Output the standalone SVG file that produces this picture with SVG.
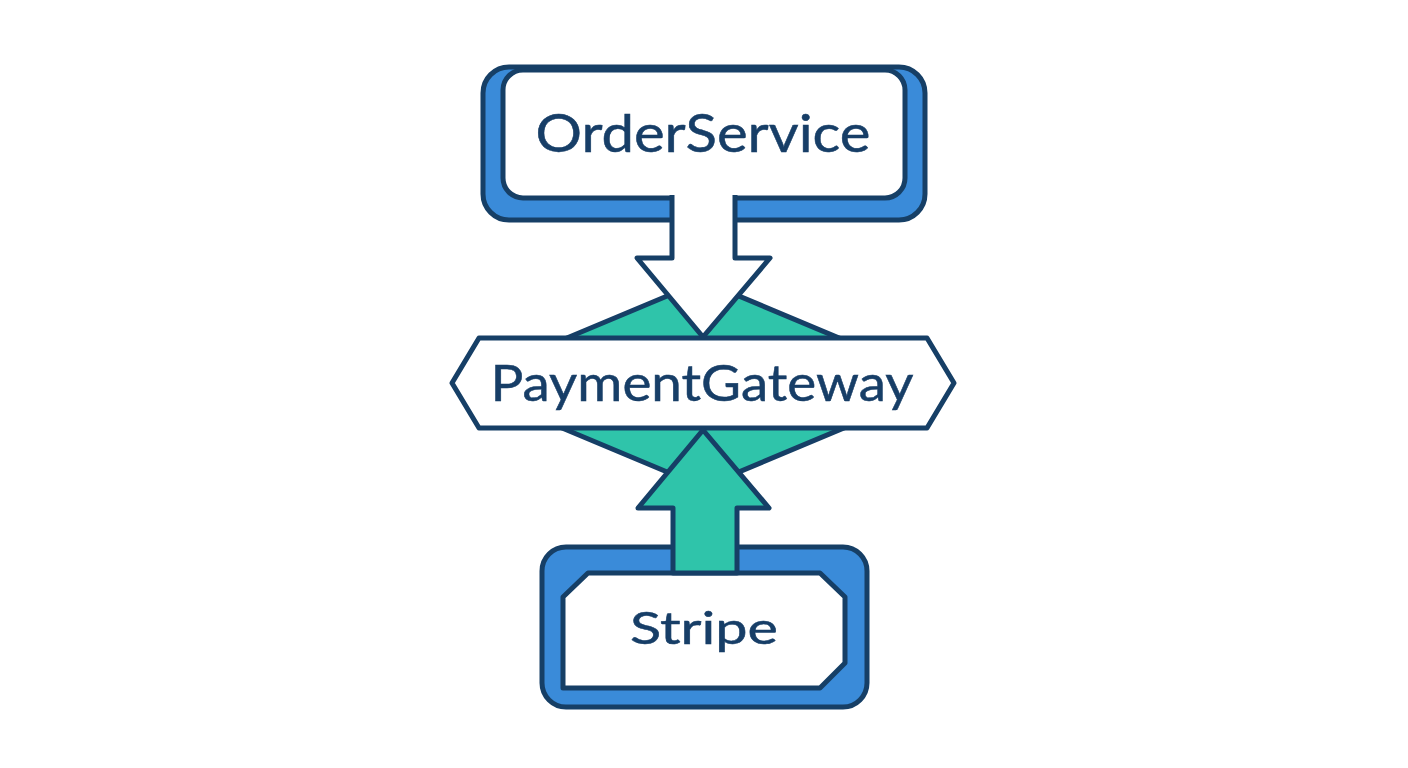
<svg xmlns="http://www.w3.org/2000/svg" width="1408" height="768" viewBox="0 0 1408 768">
<defs>
<style>
.ln{stroke:#163f66;stroke-width:5;stroke-linejoin:round;}
.blue{fill:#3a8bd9;}
.white{fill:#ffffff;}
.green{fill:#2fc4aa;}
.lbl{font-family:Lato,"Liberation Sans",sans-serif;fill:#173e67;stroke:#173e67;stroke-width:0.5;text-anchor:middle;}
</style>
</defs>
<rect width="1408" height="768" fill="#ffffff"/>
<g id="PaymentGateway">
<polygon class="ln green" points="457,384 703,281 949,384 703,487"/>
<polygon class="ln white" points="479,338 927,338 954,383 927,428 479,428 452,383"/>
<text class="lbl" x="702" y="401" font-size="51" textLength="423" lengthAdjust="spacingAndGlyphs">PaymentGateway</text>
</g>
<g id="OrderService">
<rect class="ln blue" x="483" y="67" width="442" height="153" rx="26"/>
<rect class="ln white" x="503" y="70" width="402" height="128" rx="20"/>
<text class="lbl" x="703" y="152" font-size="52" textLength="335" lengthAdjust="spacingAndGlyphs">OrderService</text>
</g>
<g id="Stripe">
<rect class="ln blue" x="542" y="547" width="325" height="160" rx="24"/>
<polygon class="ln white" points="588,573 820,573 845,597 845,663 820,688 563,688 563,597"/>
<text class="lbl" x="704" y="644" font-size="44" textLength="148" lengthAdjust="spacingAndGlyphs">Stripe</text>
</g>
<g id="connectors">
<path class="ln white" d="M672,195 V258 H637 L703,337 L770,258 H735 V195"/>
<path class="ln green" d="M673,573 V508 H638 L703,430 L769,508 H737 V573 Z"/>
</g>
</svg>
